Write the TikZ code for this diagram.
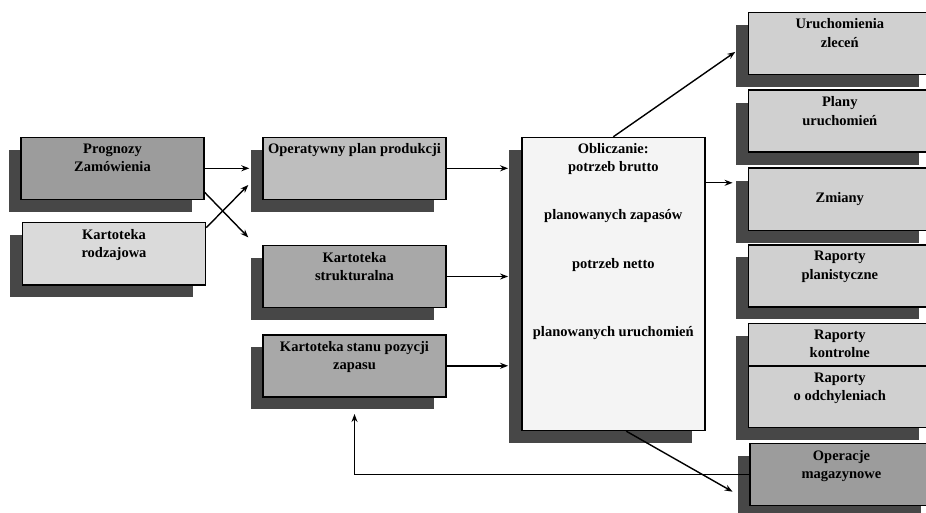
\documentclass[tikz,border=0pt]{standalone}
\usepackage{fontspec}
\setmainfont{Liberation Serif}
\usetikzlibrary{arrows.meta, calc, positioning, shadows}
\definecolor{Shd}  {HTML}{474747}
\definecolor{GrayD}{HTML}{9C9C9C}
\definecolor{GrayM}{HTML}{A8A8A8}
\definecolor{GrayS}{HTML}{BEBEBE}
\definecolor{GrayL}{HTML}{D0D0D0}
\definecolor{GrayP}{HTML}{DADADA}
\definecolor{GrayW}{HTML}{F4F4F4}
\tikzset{
  blk/.style={
    rectangle, draw=black, fill=#1,
    line width=1.4pt, inner sep=0pt,
    minimum width=183pt, minimum height=62pt,
    general shadow={fill=Shd, shadow xshift=-12.5pt, shadow yshift=-12.5pt},
  },
  txt/.style={
    font=\bfseries\fontsize{14.5}{18.4}\selectfont,
    align=center, inner sep=0pt,
  },
  arr/.style={
    -{Stealth[length=8pt,width=6pt]},
    line width=1.4pt, color=black,
  },
}
\begin{document}
\begin{tikzpicture}[x=1pt,y=-1pt]
  \useasboundingbox (0,0) rectangle (926,513);
  \clip (0,0) rectangle (926,513);

  % inputs
  \node[blk=GrayD] (prog) at (112.5,168.3) {};
  \node[blk=GrayP] (rodz) at (114,253.8)   {};
  \node[blk=GrayS] (plan) at (354.5,168.3) {};
  \node[blk=GrayM] (strk) at (354.5,276.5) {};
  \node[blk=GrayM] (stan) at (354.5,365.8) {};
  \node[blk=GrayW,minimum height=293pt] (obl) at (613.3,284) {};

  % outputs
  \node[blk=GrayL] (uru) at (839.8,43.3)  {};
  \node[blk=GrayL] (pla) at (839.8,121.2) {};
  \node[blk=GrayL] (zm)  at (839.8,199.2) {};
  \node[blk=GrayL] (rpl) at (839.8,275.8) {};
  \node[blk=GrayL,minimum height=42.7pt] (rko) at (839.8,344.7) {};
  \node[blk=GrayL,minimum height=61.3pt] (rod) at (839.8,396.7) {};
  \node[blk=GrayD] (mag) at (841.5,474.5) {};

  % texts
  \node[txt, below=7pt of prog.north] (prog-t) {Prognozy\\Zamówienia};
  \node[txt, below=7pt of rodz.north] (rodz-t) {Kartoteka\\rodzajowa};
  \node[txt, below=7pt of plan.north] (plan-t) {Operatywny plan produkcji};
  \node[txt, below=7pt of strk.north] (strk-t) {Kartoteka\\strukturalna};
  \node[txt, below=7pt of stan.north] (stan-t) {Kartoteka stanu pozycji\\zapasu};
  \node[txt, below=6pt of obl.north]  (obl-t)  {Obliczanie:\\potrzeb brutto\\[30pt]planowanych zapasów\\[30pt]potrzeb netto\\[49.5pt]planowanych uruchomień};
  \node[txt, below=7pt of uru.north]  (uru-t)  {Uruchomienia\\zleceń};
  \node[txt, below=7pt of pla.north]  (pla-t)  {Plany\\uruchomień};
  \node[txt]                          (zm-t) at (zm) {Zmiany};
  \node[txt, below=7pt of rpl.north]  (rpl-t)  {Raporty\\planistyczne};
  \node[txt, below=7pt of rko.north]  (rko-t)  {Raporty\\kontrolne};
  \node[txt, below=7pt of rod.north]  (rod-t)  {Raporty\\o odchyleniach};
  \node[txt, below=7pt of mag.north]  (mag-t)  {Operacje\\magazynowe};

  % connectors
  \draw[arr,shorten >=13pt] (prog) -- (plan);
  \draw[arr] ($(prog.south east)+(0,-7.6)$) -- ($(plan.south west)+(-14,37.4)$);
  \draw[arr] ($(rodz.north east)+(0,5.6)$) -- ($(plan.west)+(-14,16.7)$);
  \draw[arr,shorten >=13pt] (plan) -- (plan -| obl.west);
  \draw[arr,shorten >=13pt] (strk) -- (strk -| obl.west);
  \draw[arr,shorten >=13pt] (stan) -- (stan -| obl.west);

  \coordinate (obl-z) at ($(obl.north east)+(0,46)$);
  \draw[arr,shorten >=15pt] (obl-z) -- (obl-z -| zm.west);
  \draw[arr,shorten >=15pt] (obl.north) -- (uru.west);
  \coordinate (obl-s) at ($(obl.south)+(13,0)$);
  \coordinate (mag-in) at ($(mag.west)+(-16.7,17.2)$);
  \draw[arr] (obl-s) -- (mag-in);
  \coordinate (stan-in) at ($(stan.south)+(0,16.5)$);
  \draw[arr] (mag.west) -| (stan-in);
\end{tikzpicture}
\end{document}
